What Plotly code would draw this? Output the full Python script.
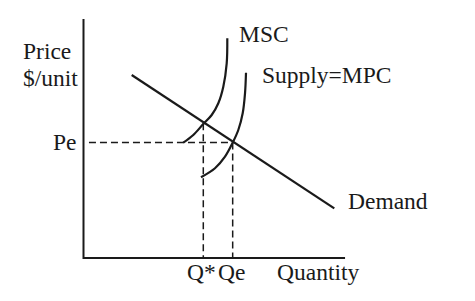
import plotly.graph_objects as go

# ---- data (economic units) ----
axis_q = [0, 0, 10.06]
axis_p = [10.04, 0, 0]

demand_q = [1.854, 9.646]
demand_p = [7.689, 2.088]

msc_q = [3.838, 4.223, 4.608, 4.931, 5.185, 5.377, 5.508, 5.531]
msc_p = [4.845, 5.168, 5.630, 6.008, 6.500, 7.197, 8.181, 9.231]

supply_q = [4.519, 5.058, 5.442, 5.738, 5.954, 6.123, 6.212, 6.250]
supply_p = [3.391, 3.769, 4.256, 4.845, 5.378, 6.080, 6.920, 7.786]

Pe = 4.85
Qe = 5.738
Qstar = 4.608
Pstar = 5.66

labels = {
    "Price": (-2.415, 8.70), "$/unit": (-2.415, 7.56),
    "Pe": (-0.162, 4.874),
    "MSC": (5.896, 9.41), "Supply=MPC": (6.781, 7.71),
    "Demand": (10.085, 2.395),
    "Q*": (3.89, -0.588), "Qe": (5.115, -0.588), "Quantity": (7.353, -0.588),
}

BLACK = "#1a1a1a"
FONT = dict(family="Liberation Serif, Times New Roman, serif", size=23.5, color=BLACK)

fig = go.Figure()

def line(x, y, width=2, dash=None, shape="linear"):
    fig.add_trace(go.Scatter(x=x, y=y, mode="lines",
                             line=dict(color=BLACK, width=width, dash=dash, shape=shape),
                             hoverinfo="skip", showlegend=False))

# dashed guides
line([0.21, Qe], [Pe, Pe], width=1.5, dash="7px,4px")
line([Qstar, Qstar], [Pstar, 0], width=1.5, dash="7px,4px")
line([Qe, Qe], [Pe, 0], width=1.5, dash="7px,4px")

# axes
line(axis_q, axis_p, width=2)

# curves
line(demand_q, demand_p, width=2.2)
line(msc_q, msc_p, width=2.2, shape="spline")
line(supply_q, supply_p, width=2.2, shape="spline")

for txt, (x, y) in labels.items():
    anchor = "right" if txt == "Pe" else "left"
    fig.add_annotation(x=x, y=y, text=txt.replace("$", "&#36;"), showarrow=False,
                       xanchor=anchor, yanchor="middle", font=FONT)

fig.update_xaxes(range=[-3.2115, 15.058], visible=False, fixedrange=True)
fig.update_yaxes(range=[-1.8067, 10.840], visible=False, fixedrange=True)
fig.update_layout(width=475, height=301, margin=dict(l=0, r=0, t=0, b=0),
                  paper_bgcolor="white", plot_bgcolor="white")

fig.write_html("out.html")
